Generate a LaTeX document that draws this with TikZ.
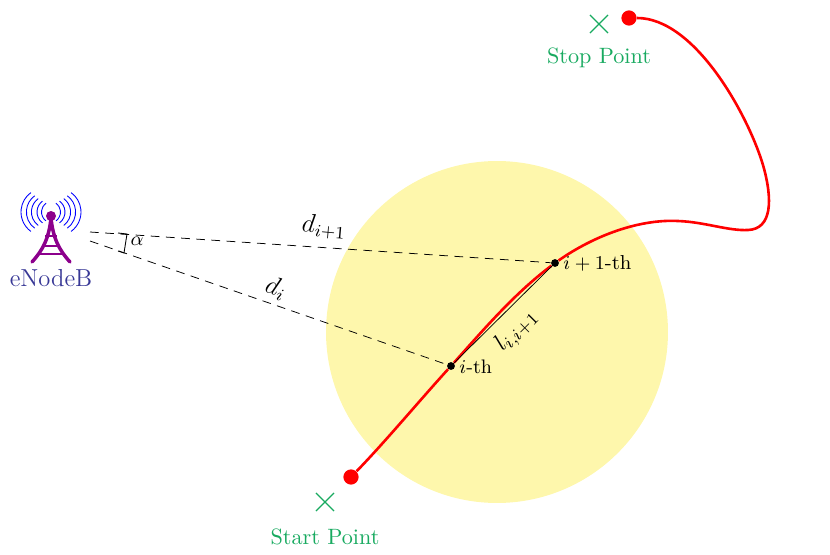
\documentclass[tikz,border=0pt]{standalone}
\usepackage{tikz}
\usetikzlibrary{shapes.misc}
\definecolor{zone}{RGB}{254,247,172}
\definecolor{marker}{RGB}{24,170,96}
\definecolor{towerc}{RGB}{140,0,140}
\definecolor{basec}{RGB}{56,56,150}
\tikzset{
  pointlabel/.style={text=marker,inner sep=0pt,font=\fontsize{10.2}{12}\selectfont},
  crossmark/.style={cross out,draw=marker,minimum size=7.8pt,inner sep=0pt,line width=0.5pt},
  endpoint/.style={circle,fill=red,inner sep=0pt,minimum size=7pt},
  samplept/.style={circle,fill=black,inner sep=0pt,minimum size=3.6pt},
  sight/.style={dash pattern=on 4pt off 3pt,line width=0.35pt},
  track/.style={red,line width=1.2pt},
  wave/.style={blue,line width=0.4pt},
  mathlabel/.style={inner sep=0pt,font=\large}
}
\begin{document}
\begin{tikzpicture}[x=0.46pt,y=-0.46pt]
	\useasboundingbox (0,0) rectangle (830,555);
	\node[circle,fill=zone,minimum size=157.3pt,inner sep=0pt] (zone) at (497,332) {};
	% tower
	\foreach \edge/\rad in {9.5/11,14/13.5,19.6/16.5,24.6/20,30/24} {
		\pgfmathsetmacro{\lft}{51-\edge+\rad}
		\pgfmathsetmacro{\rgt}{51+\edge-\rad}
		\draw[wave] (\rgt,212) ++(54:\rad) arc (54:-54:\rad);
		\draw[wave] (\lft,212) ++(126:\rad) arc (126:234:\rad);
	}
	\draw[towerc,line width=1.6pt,line cap=round] (51,218) .. controls (49,238) and (43,250) .. (32,262);
	\draw[towerc,line width=1.6pt,line cap=round] (51,218) .. controls (53,238) and (59,250) .. (70,262);
	\draw[towerc,line width=1.1pt] (45,236) -- (57,236) (42,246) -- (60,246) (38,254) -- (64,254);
	\node[circle,fill=towerc,inner sep=0pt,minimum size=4.6pt] (tower) at (51,216) {};
	\node[text=basec,inner sep=0pt,font=\fontsize{11.3}{13}\selectfont] (enb) at (51,278) {eNodeB};
	% points
	\node[endpoint] (start) at (351,477) {};
	\node[endpoint] (stop) at (629,18) {};
	\node[samplept] (pi) at (451,366) {};
	\node[samplept] (pj) at (555,263) {};
	\coordinate (bs1) at (90,232);
	\coordinate (bs2) at (90,241);
	\draw[track] (start) .. controls (385,442) and (420,400) .. (pi)
		.. controls (485,328) and (515,293) .. (pj)
		.. controls (595,235) and (640,219) .. (678,221)
		.. controls (705,222) and (728,231) .. (748,230)
		.. controls (772,229) and (773,200) .. (763,165)
		.. controls (748,115) and (695,18) .. (stop);
	\draw[sight] (bs1) -- (pj);
	\draw[sight] (bs2) -- (pi);
	\draw[line width=0.35pt] (pi) -- (pj);
	\draw[line width=0.4pt] (118,233) -- (127,234) -- (124,253) -- (118,251);
	\node[inner sep=0pt,font=\small] (ang) at (137,241) {$\alpha$};
	\node[mathlabel,rotate=-20] (di) at (276,288) {$d_i$};
	\node[mathlabel,rotate=-5] (dj) at (324,227) {$d_{i+1}$};
	\node[inner sep=0pt,rotate=45,font=\fontsize{11}{13}\selectfont] (lij) at (517,331) {$l_{i,i+1}$};
	\node[inner sep=0pt,anchor=west,font=\small] (li) at (459,367) {$i$-th};
	\node[inner sep=0pt,anchor=west,font=\fontsize{9.3}{11}\selectfont] (lj) at (563,263) {$i+1$-th};
	% start and stop
	\node[crossmark] (cs) at (325,502) {};
	\node[pointlabel] (ls) at (325,537) {Start Point};
	\node[crossmark] (ce) at (599,24) {};
	\node[pointlabel] (le) at (599,58) {Stop Point};
\end{tikzpicture}
\end{document}
